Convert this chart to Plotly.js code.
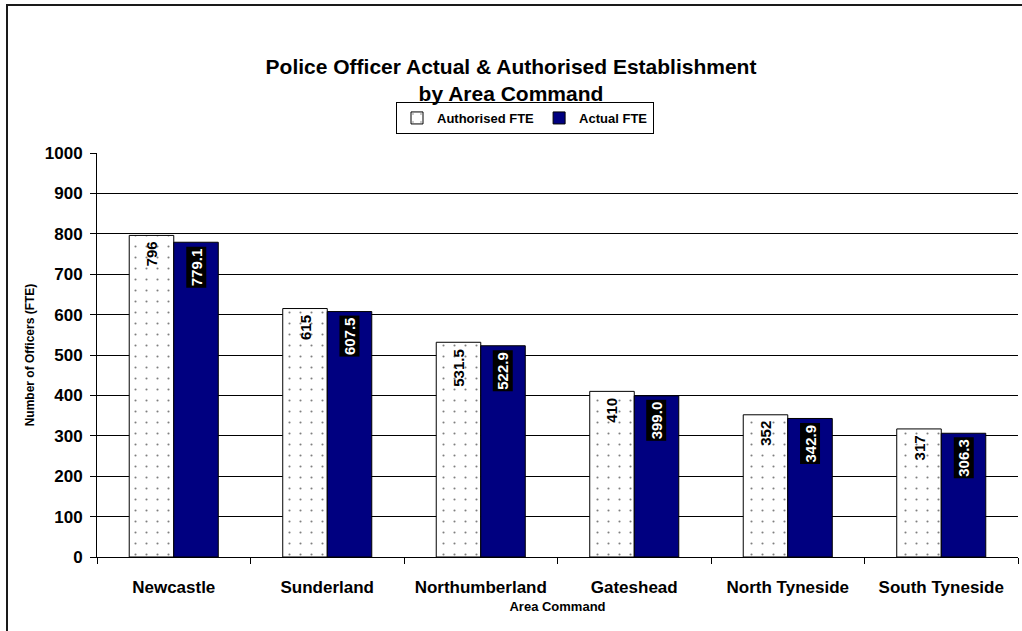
<!DOCTYPE html>
<html>
<head>
<meta charset="utf-8">
<script src="https://cdn.plot.ly/plotly-3.0.1.min.js"></script>
<style>html,body{margin:0;padding:0;background:#fff;}#chart{width:1022px;height:631px;}</style>
</head>
<body>
<div id="chart"></div>
<script>
const categories = ["Newcastle", "Sunderland", "Northumberland", "Gateshead", "North Tyneside", "South Tyneside"];
const authorised = [796, 615, 531.5, 410, 352, 317];
const actual = [779.1, 607.5, 522.9, 399.0, 342.9, 306.3];
const authorisedLabels = ["796", "615", "531.5", "410", "352", "317"];
const actualLabels = ["779.1", "607.5", "522.9", "399.0", "342.9", "306.3"];

const FONT = '"Liberation Sans", Arial, Helvetica, sans-serif';
const bargap = 0.42;
const barW = (1 - bargap) / 2;

const traces = [
  {
    type: "bar", name: "Authorised FTE", x: categories, y: authorised,
    marker: {
      color: "#ffffff",
      line: {color: "#000000", width: 1},
      pattern: {shape: ".", fgcolor: "#000000", bgcolor: "#ffffff", size: 11, solidity: 0.03, fillmode: "overlay"}
    },
    hoverinfo: "skip"
  },
  {
    type: "bar", name: "Actual FTE", x: categories, y: actual,
    marker: {color: "#000080", line: {color: "#000000", width: 1}},
    hoverinfo: "skip"
  }
];

const annotations = [];
categories.forEach((c, i) => {
  annotations.push({
    x: i - barW / 2, y: authorised[i], xref: "x", yref: "y",
    text: authorisedLabels[i], textangle: -90, showarrow: false,
    xanchor: "center", yanchor: "top", yshift: -4,
    font: {family: FONT, size: 15, color: "#000000", weight: "bold"}
  });
  annotations.push({
    x: i + barW / 2, y: actual[i], xref: "x", yref: "y",
    text: actualLabels[i], textangle: -90, showarrow: false,
    xanchor: "center", yanchor: "top", yshift: -4,
    bgcolor: "#000000", borderpad: 1,
    font: {family: FONT, size: 15, color: "#ffffff", weight: "bold"}
  });
});

const L = 97, R = 4, T = 153, B = 74;
const pw = 1022 - L - R, ph = 631 - T - B;

const layout = {
  width: 1022, height: 631,
  margin: {l: L, r: R, t: T, b: B, pad: 0},
  paper_bgcolor: "#ffffff", plot_bgcolor: "#ffffff",
  font: {family: FONT, color: "#000000"},
  barmode: "group", bargap: bargap, bargroupgap: 0,
  title: {
    text: "Police Officer Actual & Authorised Establishment<br>by Area Command",
    font: {family: FONT, size: 21, color: "#000000", weight: "bold"},
    x: 0.5, xanchor: "center", xref: "container", y: 1 - 74 / 631, yanchor: "middle", yref: "container"
  },
  showlegend: true,
  legend: {
    orientation: "h", x: (525 - L) / pw, xanchor: "center", y: (557 - 102) / ph, yanchor: "top",
    bordercolor: "#000000", borderwidth: 1, bgcolor: "#ffffff",
    font: {family: FONT, size: 13, color: "#000000", weight: "bold"},
    itemwidth: 30, tracegroupgap: 0
  },
  xaxis: {
    type: "category", showgrid: false, zeroline: false,
    showline: true, linecolor: "#000000", linewidth: 1,
    ticks: "outside", tickson: "boundaries", ticklen: 6, tickcolor: "#000000",
    ticklabelstandoff: 15,
    tickfont: {family: FONT, size: 17, color: "#000000", weight: "bold"},
    title: {text: "Area Command", font: {family: FONT, size: 13, color: "#000000", weight: "bold"}, standoff: 5},
    automargin: false
  },
  yaxis: {
    range: [0, 1000], dtick: 100, tick0: 0,
    showgrid: true, gridcolor: "#000000", gridwidth: 1, zeroline: false,
    showline: true, linecolor: "#000000", linewidth: 1,
    ticks: "outside", ticklen: 6, tickcolor: "#000000",
    ticklabelstandoff: 4,
    tickfont: {family: FONT, size: 17, color: "#000000", weight: "bold"},
    title: {text: "Number of Officers (FTE)", font: {family: FONT, size: 12, color: "#000000", weight: "bold"}, standoff: 7},
    automargin: false
  },
  annotations: annotations,
  shapes: [{
    type: "rect", xref: "paper", yref: "paper",
    x0: (7 - L) / pw, x1: (1025 - L) / pw, y0: (557 - 640) / ph, y1: (557 - 5) / ph,
    line: {color: "#1a1a1a", width: 2}, fillcolor: "rgba(0,0,0,0)", layer: "below"
  }]
};

Plotly.newPlot("chart", traces, layout, {staticPlot: true, displayModeBar: false});
</script>
</body>
</html>
